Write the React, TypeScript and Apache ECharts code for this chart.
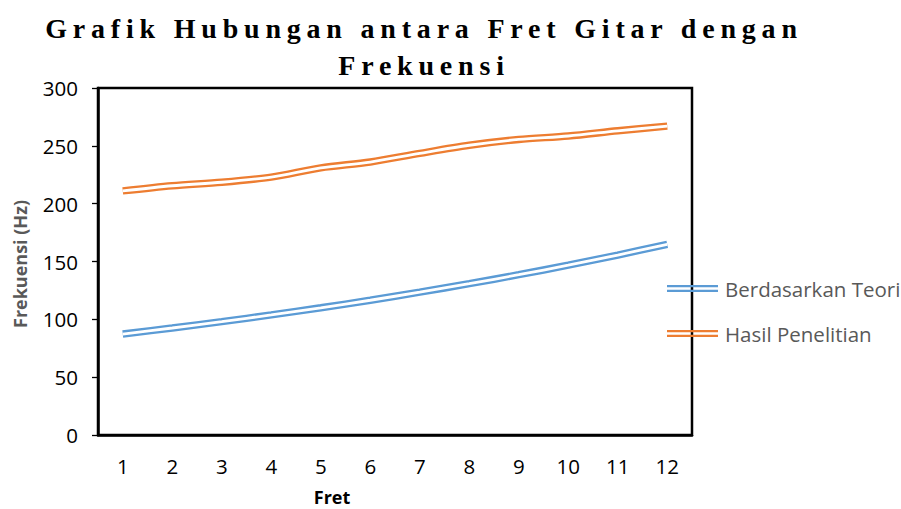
import React, { useEffect, useRef } from "react";
import * as echarts from "echarts";

const categories = ["1", "2", "3", "4", "5", "6", "7", "8", "9", "10", "11", "12"];
const teoriValues = [87.3, 92.5, 98.0, 103.8, 110.0, 116.5, 123.5, 130.8, 138.6, 146.8, 155.6, 164.8];
const penelitianValues = [211, 215.5, 218.5, 223, 231, 236, 243.5, 250.5, 255.5, 258.5, 263, 267];
const seriesNames = ["Berdasarkan Teori", "Hasil Penelitian"];
const titleLines = ["Grafik Hubungan antara Fret Gitar dengan", "Frekuensi"];
const yTitle = "Frekuensi (Hz)";
const xTitle = "Fret";

const BLUE = "#5B9BD5";
const ORANGE = "#ED7D31";
const DOUBLE_ICON = "path://M0,0H51V2.2H0Z M0,4.8H51V7H0Z";
const LABEL_FONT = "'Open Sans', 'Noto Sans', sans-serif";

export default function App() {
  const ref = useRef<HTMLDivElement>(null);
  useEffect(() => {
    if (!ref.current) return;
    const el = ref.current;
    const chart = echarts.init(el, null, { renderer: "svg" });
    const lineSeries = (name: string, data: number[], color: string) => [
      {
        name,
        type: "line",
        data,
        smooth: 0.3,
        symbol: "none",
        lineStyle: { color, width: 7.4 },
        itemStyle: { color },
        z: 2,
      },
      {
        name: name + " ",
        type: "line",
        data,
        smooth: 0.3,
        symbol: "none",
        lineStyle: { color: "#ffffff", width: 2.8 },
        itemStyle: { color: "#ffffff" },
        z: 3,
        silent: true,
      },
    ];
    const legendText = {
      color: "#595959",
      fontSize: 20.5,
      fontFamily: LABEL_FONT,
      lineHeight: 20,
      padding: [0, 0, 0, 2],
    };
    chart.setOption({
      animation: false,
      backgroundColor: "#ffffff",
      grid: {
        left: 98,
        right: 209,
        top: 88,
        bottom: 74,
        show: true,
        borderColor: "#000000",
        borderWidth: 2.5,
      },
      xAxis: {
        type: "category",
        data: categories,
        boundaryGap: true,
        axisLine: { show: true, lineStyle: { color: "#000000", width: 2.5 } },
        axisTick: { show: false },
        axisLabel: { color: "#000000", fontSize: 20.5, fontFamily: LABEL_FONT, margin: 20 },
        splitLine: { show: false },
      },
      yAxis: {
        type: "value",
        min: 0,
        max: 300,
        interval: 50,
        axisLine: { show: true, lineStyle: { color: "#000000", width: 2.5 } },
        axisTick: { show: true, length: 6, lineStyle: { color: "#000000", width: 1.3 } },
        axisLabel: { color: "#000000", fontSize: 20.5, fontFamily: LABEL_FONT, margin: 20 },
        splitLine: { show: false },
      },
      legend: [
        {
          data: [{ name: seriesNames[0], icon: DOUBLE_ICON }],
          left: 667,
          top: 278,
          padding: 0,
          itemWidth: 51,
          itemHeight: 7,
          itemGap: 6,
          selectedMode: false,
          textStyle: legendText,
        },
        {
          data: [{ name: seriesNames[1], icon: DOUBLE_ICON }],
          left: 667,
          top: 323,
          padding: 0,
          itemWidth: 51,
          itemHeight: 7,
          itemGap: 6,
          selectedMode: false,
          textStyle: legendText,
        },
      ],
      graphic: [
        {
          type: "text",
          x: 424,
          y: 28,
          style: {
            text: titleLines[0],
            fill: "#000000",
            font: "bold 28px 'Liberation Serif', 'Times New Roman', serif",
            textAlign: "center",
            textVerticalAlign: "middle",
          },
        },
        {
          type: "text",
          x: 424,
          y: 65,
          style: {
            text: titleLines[1],
            fill: "#000000",
            font: "bold 28px 'Liberation Serif', 'Times New Roman', serif",
            textAlign: "center",
            textVerticalAlign: "middle",
          },
        },
        {
          type: "text",
          x: 20,
          y: 264,
          rotation: Math.PI / 2,
          style: {
            text: yTitle,
            fill: "#595959",
            font: "bold 18px " + LABEL_FONT,
            textAlign: "center",
            textVerticalAlign: "middle",
          },
        },
        {
          type: "text",
          x: 332,
          y: 497,
          style: {
            text: xTitle,
            fill: "#000000",
            font: "bold 18px " + LABEL_FONT,
            textAlign: "center",
            textVerticalAlign: "middle",
          },
        },
      ],
      series: [
        ...lineSeries(seriesNames[0], teoriValues, BLUE),
        ...lineSeries(seriesNames[1], penelitianValues, ORANGE),
      ],
    });
    const applySpacing = () => {
      el.querySelectorAll("text").forEach((t) => {
        const s = (t.textContent || "").trim();
        if (s === titleLines[0] || s === titleLines[1]) {
          t.setAttribute("letter-spacing", "5.8");
        }
      });
    };
    applySpacing();
    chart.on("finished", applySpacing);
    const raf = requestAnimationFrame(applySpacing);
    return () => {
      cancelAnimationFrame(raf);
      chart.dispose();
    };
  }, []);
  return (
    <div
      ref={ref}
      style={{ position: "absolute", left: 0, top: 0, width: 901, height: 509, background: "#ffffff" }}
    />
  );
}
